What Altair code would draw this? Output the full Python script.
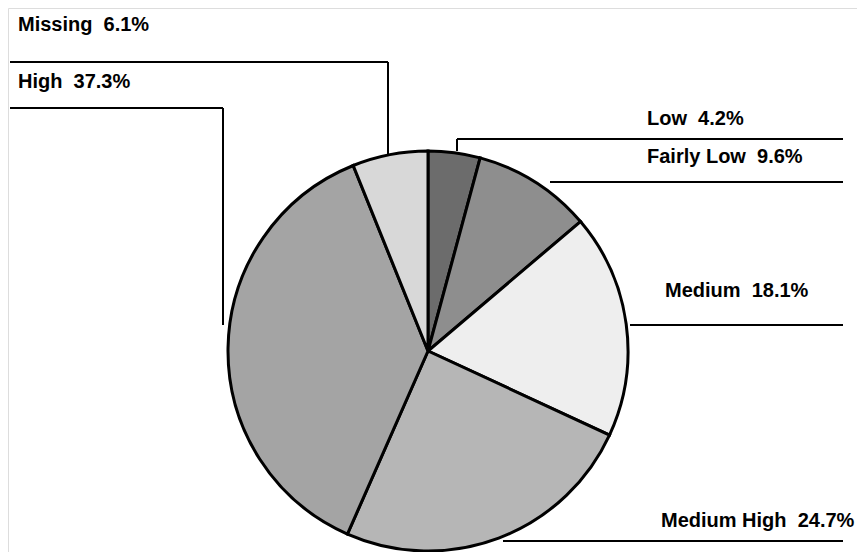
import altair as alt
import pandas as pd

# ---- data ----
categories = ["Low", "Fairly Low", "Medium", "Medium High", "High", "Missing"]
values = [4.2, 9.6, 18.1, 24.7, 37.3, 6.1]

# ---- styles ----
fills = ["#6c6c6c", "#8e8e8e", "#eeeeee", "#b6b6b6", "#a4a4a4", "#d8d8d8"]

# ---- layout (page pixel coordinates) ----
label_x = [647, 647, 665, 661, 18, 18]
label_y = [125, 163, 297, 527, 88, 31]
# leader line segments: category, x1, y1, x2, y2
seg_cat = ["Low", "Low", "Fairly Low", "Medium", "Medium High", "High", "High", "Missing", "Missing"]
seg_x1 = [457, 457, 550, 630, 503, 10, 223, 10, 388]
seg_y1 = [139, 139, 182, 325, 541, 108, 108, 62, 62]
seg_x2 = [843, 457, 843, 843, 843, 223, 223, 388, 388]
seg_y2 = [139, 151, 182, 325, 541, 108, 325, 62, 154]
pie_cx, pie_cy, pie_r = 428, 351, 200

W, H = 849, 544

pie_df = pd.DataFrame({
    "category": categories,
    "value": values,
    "order": list(range(len(categories))),
    "cx": [pie_cx] * len(categories),
    "cy": [pie_cy] * len(categories),
})
lab_df = pd.DataFrame({
    "label": [f"{c}\u00a0\u00a0{v}%" for c, v in zip(categories, values)],
    "x": label_x,
    "y": label_y,
})
seg_df = pd.DataFrame({"category": seg_cat, "x": seg_x1, "y": seg_y1, "x2": seg_x2, "y2": seg_y2})

xs = alt.Scale(domain=[8, 8 + W], range=[0, W])
ys = alt.Scale(domain=[8, 8 + H], range=[0, H])

pie = alt.Chart(pie_df).mark_arc(radius=pie_r, stroke="black", strokeWidth=3).encode(
    theta=alt.Theta("value:Q", stack=True),
    order=alt.Order("order:Q"),
    color=alt.Color("category:N", scale=alt.Scale(domain=categories, range=fills), legend=None),
    x=alt.X("cx:Q", scale=xs, axis=None),
    y=alt.Y("cy:Q", scale=ys, axis=None),
)

segs = alt.Chart(seg_df).mark_rule(color="black", strokeWidth=2).encode(
    x=alt.X("x:Q", scale=xs, axis=None),
    y=alt.Y("y:Q", scale=ys, axis=None),
    x2="x2:Q",
    y2="y2:Q",
)

labels = alt.Chart(lab_df).mark_text(
    align="left", baseline="alphabetic", font="Liberation Sans",
    fontSize=20, fontWeight="bold", color="black",
).encode(
    x=alt.X("x:Q", scale=xs, axis=None),
    y=alt.Y("y:Q", scale=ys, axis=None),
    text="label:N",
)

chart = alt.layer(segs, pie, labels).properties(
    width=W, height=H, padding=0, autosize=alt.AutoSizeParams(type="none"),
).configure_view(stroke=None).configure(background="white")

chart.save("out.html", embed_options={"renderer": "svg", "actions": False})
